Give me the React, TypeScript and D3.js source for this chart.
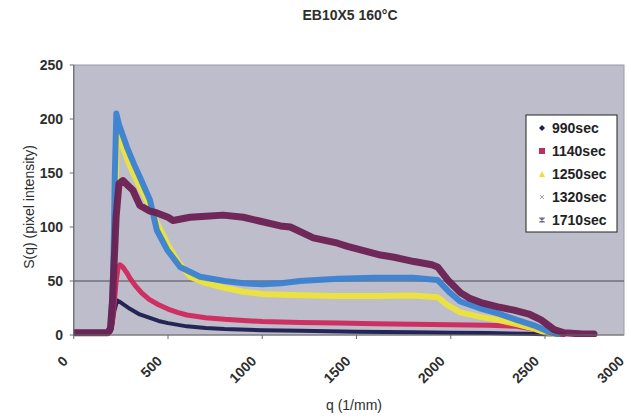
import React from "react";
import * as d3 from "d3";

const title = "EB10X5 160°C";
const xTicks = [0, 500, 1000, 1500, 2000, 2500, 3000];
const yTicks = [0, 50, 100, 150, 200, 250];
const seriesNames = ["990sec", "1140sec", "1250sec", "1320sec", "1710sec"];
const seriesColors = ["#1c1c4e", "#d0285c", "#ece43a", "#3a82d2", "#6a2050"];
const seriesWidths = [4, 5, 6, 6, 7];

const q990 = [0, 100, 180, 195, 205, 215, 230, 250, 300, 350, 400, 450, 500, 600, 700, 800, 1000, 1200, 1500, 1800, 2000, 2200, 2400, 2500, 2600];
const s990 = [2, 2, 2, 3, 10, 22, 32, 30, 24, 19, 16, 13, 11, 8, 6.5, 5.5, 4.5, 4, 3, 2.5, 2, 1.8, 1.2, 0.6, 0.3];

const q1140 = [0, 100, 180, 195, 205, 215, 225, 235, 245, 260, 280, 300, 330, 360, 400, 450, 500, 550, 600, 700, 800, 900, 1000, 1200, 1400, 1600, 1800, 2000, 2200, 2350, 2420, 2480, 2530, 2600];
const s1140 = [2, 2, 2, 4, 12, 30, 50, 62, 65, 63, 58, 52, 45, 39, 33, 28, 24, 21, 18.5, 16, 14.5, 13.5, 12.5, 11.5, 11, 10.5, 10, 9.5, 9, 8, 6, 3.5, 1.5, 0.5];

const q1250 = [0, 100, 180, 195, 205, 212, 220, 229, 245, 261, 290, 320, 351, 404, 441, 495, 548, 617, 700, 793, 900, 1000, 1149, 1400, 1600, 1800, 1930, 1980, 2050, 2150, 2250, 2350, 2440, 2500, 2560];
const s1250 = [2, 2, 2, 8, 30, 60, 110, 187, 180, 174, 160, 148, 137, 119, 104, 85, 69, 54, 48, 44, 40, 38, 37, 36, 36, 36.5, 35, 28, 21, 17, 14, 10, 6, 2.5, 0.5];

const q1320 = [0, 100, 180, 195, 205, 212, 218, 226, 240, 260, 282, 320, 351, 404, 441, 495, 564, 670, 800, 900, 1000, 1100, 1200, 1400, 1600, 1800, 1930, 1990, 2050, 2150, 2250, 2350, 2440, 2520, 2570];
const s1320 = [2, 2, 2, 8, 35, 80, 150, 205, 195, 185, 174, 158, 146, 125, 97, 79, 63, 54, 50, 48, 47, 48, 50, 52, 53, 53, 51, 40, 31, 25, 20, 14, 9, 3, 0.5];

const q1710 = [0, 100, 180, 195, 205, 215, 225, 240, 261, 290, 314, 340, 351, 400, 441, 500, 527, 617, 700, 793, 900, 973, 1096, 1149, 1271, 1400, 1452, 1628, 1700, 1805, 1900, 1930, 1984, 2053, 2100, 2160, 2250, 2335, 2420, 2479, 2548, 2601, 2700, 2760];
const s1710 = [2, 2, 2, 6, 30, 70, 110, 140, 143, 138, 134, 124, 120, 115, 113, 109, 106, 109, 110, 111, 109, 106, 101, 100, 90, 85, 82, 74, 72, 68, 65, 63, 51, 39, 34, 30, 26, 23, 19, 14, 5, 2, 1, 1];

const seriesQ = [q990, q1140, q1250, q1320, q1710];
const seriesS = [s990, s1140, s1250, s1320, s1710];

const W = 628, H = 418;
const left = 73.75, top = 65, bottom = 335, right = 624;
const x = d3.scaleLinear().domain([0, 3000]).range([left, left + 6 * 94.25]);
const y = d3.scaleLinear().domain([0, 250]).range([bottom, top]);

const font = "'Liberation Sans', Arial, sans-serif";
const textCol = "#2e2e2e";

function Marker({ i, cx, cy }: { i: number; cx: number; cy: number }) {
  if (i === 0) return <path d={`M${cx},${cy - 3}L${cx + 3},${cy}L${cx},${cy + 3}L${cx - 3},${cy}Z`} fill="#1c1c4e" />;
  if (i === 1) return <rect x={cx - 3} y={cy - 3} width={6} height={6} fill="#b83062" />;
  if (i === 2) return <path d={`M${cx},${cy - 3}L${cx + 3},${cy + 3}L${cx - 3},${cy + 3}Z`} fill="#e8e040" />;
  if (i === 3) return <path d={`M${cx - 2},${cy - 2}L${cx + 2},${cy + 2}M${cx + 2},${cy - 2}L${cx - 2},${cy + 2}`} stroke="#9aa8b8" strokeWidth={1} />;
  return <path d={`M${cx - 2.5},${cy - 2.5}L${cx + 2.5},${cy + 2.5}M${cx + 2.5},${cy - 2.5}L${cx - 2.5},${cy + 2.5}M${cx},${cy - 3}L${cx},${cy + 3}`} stroke="#6a6a80" strokeWidth={1.2} />;
}

export default function App() {
  const line = d3.line<[number, number]>().x((d) => x(d[0])).y((d) => y(d[1])).curve(d3.curveLinear);
  return (
    <svg width={W} height={H} style={{ position: "absolute", left: 0, top: 0, background: "#fff" }}>
      <defs>
        <clipPath id="plotclip">
          <rect x={left} y={top} width={right - left} height={bottom - top + 2} />
        </clipPath>
      </defs>
      <text x={350} y={20} textAnchor="middle" fontFamily={font} fontWeight="bold" fontSize={14} fill={textCol}>{title}</text>
      <rect x={left} y={top} width={right - left} height={bottom - top} fill="#bdbdcb" stroke="#9a9aa4" strokeWidth={1} />
      <line x1={left} x2={right} y1={y(50)} y2={y(50)} stroke="#4a4a52" strokeWidth={1} />
      <g clipPath="url(#plotclip)">
        {seriesQ.map((qs, i) => (
          <path key={i} d={line(qs.map((q, k) => [q, seriesS[i][k]] as [number, number])) || ""} fill="none" stroke={seriesColors[i]} strokeWidth={seriesWidths[i]} strokeLinejoin="round" strokeLinecap="round" opacity={0.95} />
        ))}
      </g>
      <line x1={left} x2={left} y1={top} y2={bottom} stroke="#6a6a70" strokeWidth={1.2} />
      <line x1={left} x2={right} y1={bottom} y2={bottom} stroke="#6a6a70" strokeWidth={1.2} />
      {yTicks.map((t) => (
        <g key={t}>
          <line x1={left - 4} x2={left} y1={y(t)} y2={y(t)} stroke="#6a6a70" />
          <text x={63} y={y(t) + 5} textAnchor="end" fontFamily={font} fontWeight="bold" fontSize={14} fill={textCol}>{t}</text>
        </g>
      ))}
      {xTicks.map((t) => (
        <g key={t}>
          {x(t) <= right && <line x1={x(t)} x2={x(t)} y1={bottom} y2={bottom + 4} stroke="#6a6a70" />}
          <text transform={`translate(${Math.min(x(t) - 5, 625)},${362}) rotate(-45)`} textAnchor="end" fontFamily={font} fontWeight="bold" fontSize={14} fill={textCol}>{t}</text>
        </g>
      ))}
      <text transform={`translate(34,${207}) rotate(-90)`} textAnchor="middle" fontFamily={font} fontSize={14} fill={textCol}>S(q) (pixel intensity)</text>
      <text x={354} y={410} textAnchor="middle" fontFamily={font} fontSize={14} fill={textCol}>q (1/mm)</text>
      <rect x={526} y={115} width={91} height={117} fill="#fff" stroke="#222" strokeWidth={1} />
      {seriesNames.map((n, i) => (
        <g key={n}>
          <Marker i={i} cx={542} cy={128 + i * 23} />
          <text x={552} y={133 + i * 23} fontFamily={font} fontWeight="bold" fontSize={14} fill="#222">{n}</text>
        </g>
      ))}
    </svg>
  );
}
